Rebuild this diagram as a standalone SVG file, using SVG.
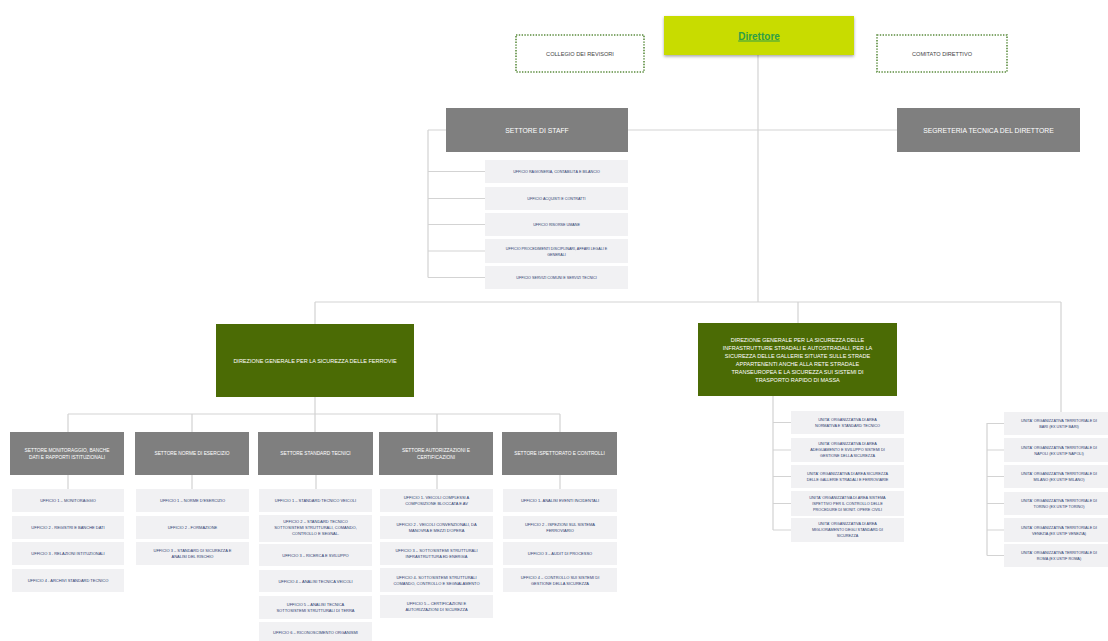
<svg xmlns="http://www.w3.org/2000/svg" width="1108" height="641" viewBox="0 0 1108 641">
<style>
.ln{stroke:#d3d3d3;stroke-width:1.2;fill:none}
.gray{fill:#7f7f7f}
.green{fill:#4b6b05}
.off{fill:#f1f1f3}
.dot{fill:#fff;stroke:#5b8c3e;stroke-width:1.6;stroke-dasharray:1.4 1.4}
text{font-family:"Liberation Sans",Arial,sans-serif;text-anchor:middle}
.tw{fill:#fff}
.sec{fill:#fff;font-size:4.8px}
.gt{fill:#fff;font-size:5.5px}
.big{fill:#fff;font-size:6.8px}
.to{fill:#2b3a6e;font-size:4px}
.ts{fill:#2b3a6e;font-size:3.7px}
.tu{fill:#2b3a6e;font-size:3.8px}
.tb{fill:#444;font-size:5.6px}
</style>
<defs>
<filter id="sh" x="-10%" y="-20%" width="120%" height="150%"><feDropShadow dx="0" dy="1.5" stdDeviation="1.5" flood-color="#000" flood-opacity="0.35"/></filter>
</defs>
<rect width="1108" height="641" fill="#fff"/>
<g id="connectors">
<path class="ln" d="M758 55V302"/>
<path class="ln" d="M428 130H897"/>
<path class="ln" d="M428 130V277.5M428 171.5H485M428 198.5H485M428 224.5H485M428 251H485M428 277.5H485"/>
<path class="ln" d="M315 302H1061"/>
<path class="ln" d="M315 302V324M798 302V323"/>
<path class="ln" d="M1061 302V423.5H987V555.5M987 450H1004M987 476.5H1004M987 503.5H1004M987 530H1004M987 555.5H1004"/>
<path class="ln" d="M315 397V432M68 414H560M68 414V432M192 414V432M437 414V432M560 414V432"/>
<path class="ln" d="M68 475V489M192 475V489M316 475V489M437 475V489M560 475V489"/>
<path class="ln" d="M773 396V530M773 422.5H791M773 450H791M773 476.5H791M773 503.5H791M773 530H791"/>
</g>
<g id="direttore"><rect x="664" y="16" width="190" height="39" fill="#c8dc00" filter="url(#sh)"/><text x="759" y="39.5" font-size="10" font-weight="bold" fill="#2e9e47" text-decoration="underline">Direttore</text></g>
<g id="collegio"><rect class="dot" x="516" y="35" width="128" height="37"/><text class="tb" x="580" y="55.5">COLLEGIO DEI REVISORI</text></g>
<g id="comitato"><rect class="dot" x="877" y="35" width="130" height="37"/><text class="tb" x="942" y="55.5">COMITATO DIRETTIVO</text></g>
<g id="staff"><rect class="gray" x="446" y="108" width="182" height="44"/><text class="big" x="537" y="132.5">SETTORE DI STAFF</text></g>
<g id="segreteria"><rect class="gray" x="897" y="108" width="183" height="44"/><text class="big" x="988.5" y="132.5">SEGRETERIA TECNICA DEL DIRETTORE</text></g>
<g id="staff-uffici">
<rect class="off" x="485" y="160" width="143" height="23"/><text class="ts" x="556.5" y="173">UFFICIO RAGIONERIA, CONTABILITÀ E BILANCIO</text>
<rect class="off" x="485" y="187" width="143" height="23"/><text class="ts" x="556.5" y="200">UFFICIO ACQUISTI E CONTRATTI</text>
<rect class="off" x="485" y="213" width="143" height="23"/><text class="ts" x="556.5" y="226">UFFICIO RISORSE UMANE</text>
<rect class="off" x="485" y="239" width="143" height="24"/><text class="ts" x="556.5" y="249.5">UFFICIO PROCEDIMENTI DISCIPLINARI, AFFARI LEGALI E<tspan x="556.5" dy="6">GENERALI</tspan></text>
<rect class="off" x="485" y="266" width="143" height="23"/><text class="ts" x="556.5" y="279">UFFICIO SERVIZI COMUNI E SERVIZI TECNICI</text>
</g>
<g id="dg-ferrovie"><rect class="green" x="216" y="324" width="198" height="73"/><text class="gt" x="315" y="362.5">DIREZIONE GENERALE PER LA SICUREZZA DELLE FERROVIE</text></g>
<g id="dg-strade"><rect class="green" x="698" y="323" width="199" height="73"/><text class="gt" x="797.5" y="341.5">DIREZIONE GENERALE PER LA SICUREZZA DELLE<tspan x="797.5" dy="8">INFRASTRUTTURE STRADALI E AUTOSTRADALI, PER LA</tspan><tspan x="797.5" dy="8">SICUREZZA DELLE GALLERIE SITUATE SULLE STRADE</tspan><tspan x="797.5" dy="8">APPARTENENTI ANCHE ALLA RETE STRADALE</tspan><tspan x="797.5" dy="8">TRANSEUROPEA E LA SICUREZZA SUI SISTEMI DI</tspan><tspan x="797.5" dy="8">TRASPORTO RAPIDO DI MASSA</tspan></text></g>
<g id="settore-monitoraggio"><rect class="gray" x="10" y="432" width="114" height="43"/><text class="sec" x="67" y="451.5">SETTORE MONITORAGGIO, BANCHE<tspan x="67" dy="7.5">DATI E RAPPORTI ISTITUZIONALI</tspan></text></g>
<g id="settore-norme"><rect class="gray" x="135" y="432" width="114" height="43"/><text class="sec" x="192" y="455.3">SETTORE NORME DI ESERCIZIO</text></g>
<g id="settore-standard"><rect class="gray" x="258" y="432" width="115" height="43"/><text class="sec" x="315.5" y="455.3">SETTORE STANDARD TECNICI</text></g>
<g id="settore-autorizzazioni"><rect class="gray" x="379" y="432" width="114" height="43"/><text class="sec" x="436" y="451.5">SETTORE AUTORIZZAZIONI E<tspan x="436" dy="7.5">CERTIFICAZIONI</tspan></text></g>
<g id="settore-ispettorato"><rect class="gray" x="502" y="432" width="115" height="43"/><text class="sec" x="559.5" y="455.3">SETTORE ISPETTORATO E CONTROLLI</text></g>
<g id="uffici-monitoraggio">
<rect class="off" x="12" y="489" width="112" height="23"/><text class="to" x="68" y="502">UFFICIO 1 – MONITORAGGIO</text>
<rect class="off" x="12" y="516" width="112" height="23"/><text class="to" x="68" y="529">UFFICIO 2 - REGISTRI E BANCHE DATI</text>
<rect class="off" x="12" y="542" width="112" height="23"/><text class="to" x="68" y="555">UFFICIO 3 - RELAZIONI ISTITUZIONALI</text>
<rect class="off" x="12" y="569" width="112" height="23"/><text class="to" x="68" y="582">UFFICIO 4 - ARCHIVI STANDARD TECNICO</text>
</g>
<g id="uffici-norme">
<rect class="off" x="136" y="489" width="113" height="23"/><text class="to" x="192.5" y="502">UFFICIO 1 – NORME D'ESERCIZIO</text>
<rect class="off" x="136" y="516" width="113" height="23"/><text class="to" x="192.5" y="529">UFFICIO 2 - FORMAZIONE</text>
<rect class="off" x="136" y="542" width="113" height="23"/><text class="to" x="192.5" y="552">UFFICIO 3 – STANDARD DI SICUREZZA E<tspan x="192.5" dy="6">ANALISI DEL RISCHIO</tspan></text>
</g>
<g id="uffici-standard">
<rect class="off" x="259" y="489" width="113" height="23"/><text class="to" x="315.5" y="502">UFFICIO 1 – STANDARD TECNICO VEICOLI</text>
<rect class="off" x="259" y="515" width="113" height="27"/><text class="to" x="315.5" y="523">UFFICIO 2 – STANDARD TECNICO<tspan x="315.5" dy="6">SOTTOSISTEMI STRUTTURALI, COMANDO,</tspan><tspan x="315.5" dy="6">CONTROLLO E SEGNAL.</tspan></text>
<rect class="off" x="259" y="544" width="113" height="22"/><text class="to" x="315.5" y="556.5">UFFICIO 3 – RICERCA E SVILUPPO</text>
<rect class="off" x="259" y="570" width="113" height="22"/><text class="to" x="315.5" y="582.5">UFFICIO 4 – ANALISI TECNICA VEICOLI</text>
<rect class="off" x="259" y="596" width="113" height="23"/><text class="to" x="315.5" y="606">UFFICIO 5 – ANALISI TECNICA<tspan x="315.5" dy="6">SOTTOSISTEMI STRUTTURALI DI TERRA</tspan></text>
<rect class="off" x="259" y="622" width="113" height="23"/><text class="to" x="315.5" y="634">UFFICIO 6 – RICONOSCIMENTO ORGANISMI</text>
</g>
<g id="uffici-autorizzazioni">
<rect class="off" x="380" y="489" width="113" height="23"/><text class="to" x="436.5" y="499">UFFICIO 1- VEICOLI COMPLESSI A<tspan x="436.5" dy="6">COMPOSIZIONE BLOCCATA E AV</tspan></text>
<rect class="off" x="380" y="516" width="113" height="23"/><text class="to" x="436.5" y="526">UFFICIO 2 - VEICOLI CONVENZIONALI, DA<tspan x="436.5" dy="6">MANOVRA E MEZZI D'OPERA</tspan></text>
<rect class="off" x="380" y="542" width="113" height="23"/><text class="to" x="436.5" y="552">UFFICIO 3 – SOTTOSISTEMI STRUTTURALI<tspan x="436.5" dy="6">INFRASTRUTTURA ED ENERGIA</tspan></text>
<rect class="off" x="380" y="568" width="113" height="24"/><text class="to" x="436.5" y="578.5">UFFICIO 4- SOTTOSISTEMI STRUTTURALI<tspan x="436.5" dy="6">COMANDO, CONTROLLO E SEGNALAMENTO</tspan></text>
<rect class="off" x="380" y="595" width="113" height="23"/><text class="to" x="436.5" y="605">UFFICIO 5 – CERTIFICAZIONI E<tspan x="436.5" dy="6">AUTORIZZAZIONI DI SICUREZZA</tspan></text>
</g>
<g id="uffici-ispettorato">
<rect class="off" x="503" y="489" width="114" height="23"/><text class="to" x="560" y="502">UFFICIO 1- ANALISI EVENTI INCIDENTALI</text>
<rect class="off" x="503" y="516" width="114" height="23"/><text class="to" x="560" y="526">UFFICIO 2 - ISPEZIONI SUL SISTEMA<tspan x="560" dy="6">FERROVIARIO</tspan></text>
<rect class="off" x="503" y="542" width="114" height="23"/><text class="to" x="560" y="555">UFFICIO 3 – AUDIT DI PROCESSO</text>
<rect class="off" x="503" y="568" width="114" height="24"/><text class="to" x="560" y="578.5">UFFICIO 4 – CONTROLLO SUI SISTEMI DI<tspan x="560" dy="6">GESTIONE DELLA SICUREZZA</tspan></text>
</g>
<g id="unita-area">
<rect class="off" x="791" y="411" width="113" height="23"/><text class="tu" x="847.5" y="421">UNITA' ORGANIZZATIVA DI AREA<tspan x="847.5" dy="6">NORMATIVA E STANDARD TECNICO</tspan></text>
<rect class="off" x="791" y="438" width="113" height="24"/><text class="tu" x="847.5" y="445">UNITA' ORGANIZZATIVA DI AREA<tspan x="847.5" dy="6">ADEGUAMENTO E SVILUPPO SISTEMI DI</tspan><tspan x="847.5" dy="6">GESTIONE DELLA SICUREZZA</tspan></text>
<rect class="off" x="791" y="465" width="113" height="23"/><text class="tu" x="847.5" y="475">UNITA' ORGANIZZATIVA DI AREA SICUREZZA<tspan x="847.5" dy="6">DELLE GALLERIE STRADALI E FERROVIARIE</tspan></text>
<rect class="off" x="791" y="491" width="113" height="25"/><text class="tu" x="847.5" y="499">UNITA' ORGANIZZATIVA DI AREA SISTEMA<tspan x="847.5" dy="6">ISPETTIVO PER IL CONTROLLO DELLE</tspan><tspan x="847.5" dy="6">PROCEDURE DI MONIT. OPERE CIVILI</tspan></text>
<rect class="off" x="791" y="518" width="113" height="24"/><text class="tu" x="847.5" y="525">UNITA' ORGANIZZATIVA DI AREA<tspan x="847.5" dy="6">MIGLIORAMENTO DEGLI STANDARD DI</tspan><tspan x="847.5" dy="6">SICUREZZA</tspan></text>
</g>
<g id="unita-territoriali">
<rect class="off" x="1004" y="412" width="110" height="23"/><text class="tu" x="1059" y="422">UNITA' ORGANIZZATIVA TERRITORIALE DI<tspan x="1059" dy="6">BARI (EX USTIF BARI)</tspan></text>
<rect class="off" x="1004" y="438" width="110" height="24"/><text class="tu" x="1059" y="448.5">UNITA' ORGANIZZATIVA TERRITORIALE DI<tspan x="1059" dy="6">NAPOLI (EX USTIF NAPOLI)</tspan></text>
<rect class="off" x="1004" y="465" width="110" height="23"/><text class="tu" x="1059" y="475">UNITA' ORGANIZZATIVA TERRITORIALE DI<tspan x="1059" dy="6">MILANO (EX USTIF MILANO)</tspan></text>
<rect class="off" x="1004" y="492" width="110" height="23"/><text class="tu" x="1059" y="502">UNITA' ORGANIZZATIVA TERRITORIALE DI<tspan x="1059" dy="6">TORINO (EX USTIF TORINO)</tspan></text>
<rect class="off" x="1004" y="518" width="110" height="24"/><text class="tu" x="1059" y="528.5">UNITA' ORGANIZZATIVA TERRITORIALE DI<tspan x="1059" dy="6">VENEZIA (EX USTIF VENEZIA)</tspan></text>
<rect class="off" x="1004" y="544" width="110" height="23"/><text class="tu" x="1059" y="554">UNITA' ORGANIZZATIVA TERRITORIALE DI<tspan x="1059" dy="6">ROMA (EX USTIF ROMA)</tspan></text>
</g>
</svg>
